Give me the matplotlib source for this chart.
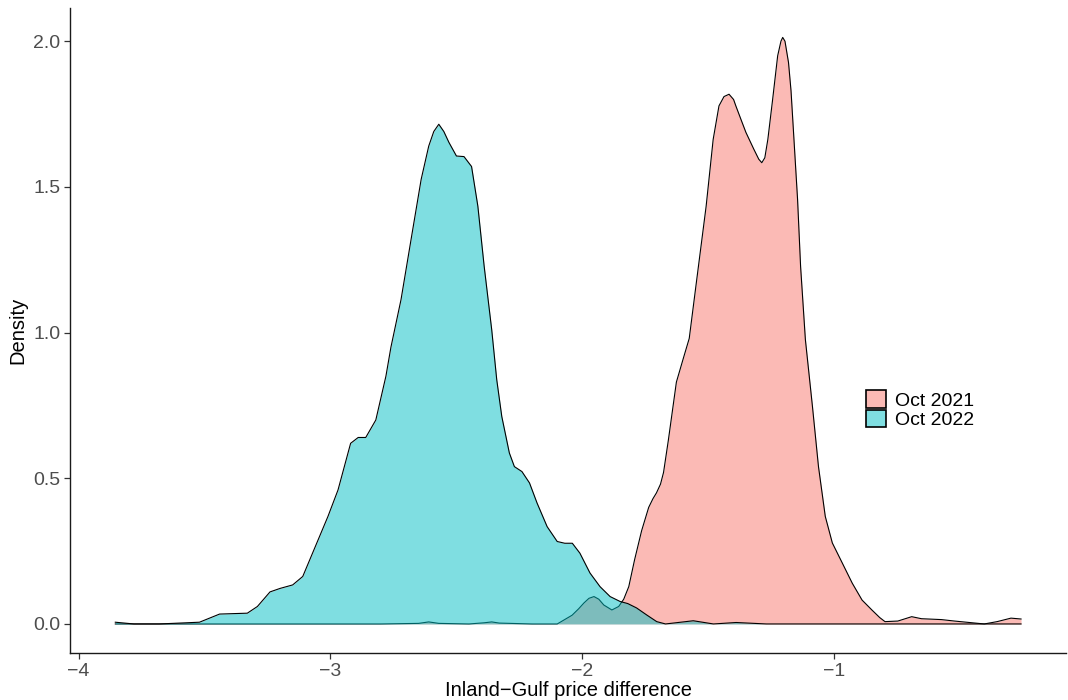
import numpy as np
import matplotlib
matplotlib.use("Agg")
import matplotlib.pyplot as plt
from matplotlib.patches import Patch
from matplotlib.ticker import FormatStrFormatter

plt.rcParams['font.family'] = ['Liberation Sans', 'DejaVu Sans']

# density curves (x = price difference, y = density)
x_2021 = [-3.854, -3.6, -3.2, -2.8, -2.65, -2.61, -2.57, -2.45, -2.39, -2.36, -2.33,
          -2.2, -2.1, -2.041, -2.015, -1.994, -1.974, -1.954, -1.935, -1.915, -1.883,
          -1.856, -1.836, -1.816, -1.793, -1.765, -1.737, -1.720, -1.706, -1.690, -1.678,
          -1.659, -1.627, -1.600, -1.576, -1.548, -1.509, -1.481, -1.458, -1.438, -1.418,
          -1.400, -1.391, -1.370, -1.351, -1.320, -1.300, -1.288, -1.276, -1.264, -1.245,
          -1.225, -1.212, -1.205, -1.196, -1.182, -1.172, -1.162, -1.146, -1.134, -1.115,
          -1.087, -1.063, -1.036, -1.008, -0.969, -0.929, -0.890, -0.851, -0.820, -0.799,
          -0.748, -0.693, -0.654, -0.575, -0.523, -0.405, -0.354, -0.299, -0.259]
y_2021 = [0.0, 0.0, 0.0, 0.0, 0.002, 0.007, 0.002, 0.0, 0.004, 0.007, 0.003,
          0.0, 0.0, 0.03, 0.052, 0.072, 0.088, 0.094, 0.085, 0.065, 0.048,
          0.06, 0.085, 0.128, 0.22, 0.32, 0.40, 0.43, 0.45, 0.48, 0.52,
          0.63, 0.83, 0.91, 0.98, 1.17, 1.433, 1.663, 1.778, 1.81, 1.818,
          1.80, 1.778, 1.73, 1.687, 1.63, 1.595, 1.583, 1.60, 1.663, 1.80,
          1.95, 2.0, 2.013, 2.0, 1.927, 1.83, 1.687, 1.457, 1.227, 0.976,
          0.747, 0.54, 0.369, 0.278, 0.21, 0.14, 0.082, 0.048, 0.022, 0.008,
          0.01, 0.025, 0.018, 0.015, 0.01, 0.0, 0.008, 0.02, 0.017]

x_2022 = [-3.854, -3.78, -3.68, -3.52, -3.44, -3.33, -3.29, -3.24, -3.20, -3.15, -3.11,
          -3.06, -3.01, -2.97, -2.92, -2.89, -2.86, -2.82, -2.78, -2.76, -2.72, -2.68,
          -2.64, -2.61, -2.59, -2.57, -2.55, -2.53, -2.50, -2.47, -2.44, -2.415, -2.39,
          -2.36, -2.34, -2.32, -2.29, -2.27, -2.24, -2.21, -2.18, -2.14, -2.10, -2.07,
          -2.04, -2.01, -1.97, -1.93, -1.89, -1.85, -1.82, -1.785, -1.745, -1.705,
          -1.67, -1.56, -1.48, -1.39, -1.27, -1.0, -0.76, -0.5, -0.259]
y_2022 = [0.006, 0.0, 0.0, 0.006, 0.034, 0.037, 0.06, 0.11, 0.122, 0.134, 0.163,
          0.266, 0.369, 0.46, 0.62, 0.64, 0.64, 0.70, 0.85, 0.95, 1.113, 1.32,
          1.526, 1.64, 1.69, 1.715, 1.69, 1.653, 1.606, 1.604, 1.57, 1.434, 1.228,
          1.01, 0.838, 0.712, 0.587, 0.54, 0.523, 0.484, 0.415, 0.334, 0.283, 0.277,
          0.277, 0.243, 0.175, 0.128, 0.094, 0.077, 0.07, 0.055, 0.031, 0.008,
          0.0, 0.011, 0.0, 0.005, 0.0, 0.0, 0.0, 0.0, 0.0]

labels = ['Oct 2021', 'Oct 2022']
fills = ['#F8766D', '#00BFC4']
x_ticks = [-4, -3, -2, -1]
y_ticks = [0.0, 0.5, 1.0, 1.5, 2.0]

fig = plt.figure(figsize=(10.68, 7), dpi=100)
ax = fig.add_axes([0.0655, 0.067, 0.933, 0.922])

# draw groups in order, each fill followed by its outline (ggplot style)
for xs, ys, c, z in [(x_2021, y_2021, fills[0], 2), (x_2022, y_2022, fills[1], 4)]:
    ax.fill_between(xs, 0, ys, color=c, alpha=0.5, linewidth=0, zorder=z)
    ax.plot(xs, ys, color='black', linewidth=0.8, zorder=z + 0.5)

ax.set_xlim(-4.034, -0.079)
ax.set_ylim(-0.1, 2.115)
ax.set_xticks(x_ticks)
ax.set_yticks(y_ticks)
ax.yaxis.set_major_formatter(FormatStrFormatter('%.1f'))

for side in ['top', 'right']:
    ax.spines[side].set_visible(False)
for side in ['left', 'bottom']:
    ax.spines[side].set_linewidth(1.0)
    ax.spines[side].set_color('#1a1a1a')
ax.tick_params(axis='both', length=4, width=0.9, color='#333333',
               labelsize=14, labelcolor='#4D4D4D', pad=3)

ax.set_xlabel('Inland\u2212Gulf price difference', fontsize=14.5, color='black', labelpad=1)
ax.set_ylabel('Density', fontsize=14.5, color='black', labelpad=4)

handles = [Patch(facecolor=matplotlib.colors.to_rgba(c, 0.5), edgecolor='black', linewidth=1.2)
           for c in fills]
ax.legend(handles, labels, loc='center left', bbox_to_anchor=(0.799, 0.377),
          frameon=False, fontsize=14, labelspacing=0.0, handlelength=1.0,
          handleheight=1.0, handletextpad=0.5, borderpad=0, borderaxespad=0)

fig.savefig('out.png', dpi=100)
